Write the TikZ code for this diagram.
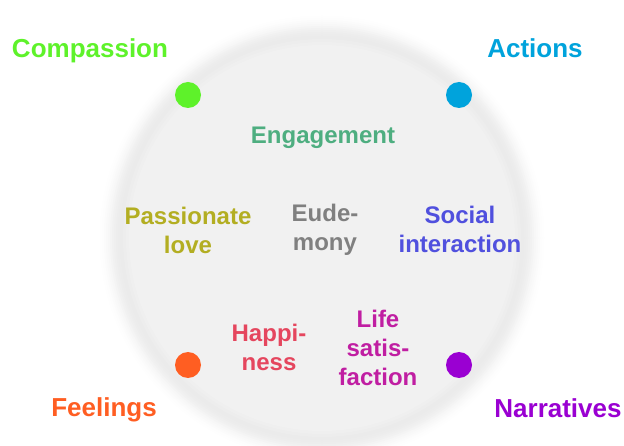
\documentclass[tikz,border=0pt]{standalone}
\usepackage{fontspec}
\setmainfont{Liberation Sans}
\definecolor{cgreen}{HTML}{5EF22A}
\definecolor{cblue}{HTML}{00A3DC}
\definecolor{corange}{HTML}{FF5E22}
\definecolor{cpurple}{HTML}{9A00D2}
\definecolor{cengage}{HTML}{4EAE80}
\definecolor{colive}{HTML}{B3AE22}
\definecolor{cgray}{HTML}{808080}
\definecolor{csocial}{HTML}{5050DE}
\definecolor{chappy}{HTML}{E5465E}
\definecolor{clife}{HTML}{C01EA2}
\definecolor{disc}{HTML}{F1F1F1}
\definecolor{rim}{HTML}{EBEBEB}
\begin{document}
\begin{tikzpicture}[x=1pt,y=-1pt,
  outer/.style={font=\bfseries\fontsize{26}{29}\selectfont, inner sep=0pt},
  inner/.style={font=\bfseries\fontsize{24}{29}\selectfont, align=center, inner sep=0pt},
  dot/.style={circle, minimum size=26pt, inner sep=0pt}]
\useasboundingbox (0,0) rectangle (624,446);
\clip (0,0) rectangle (624,446);
\fill[white] (0,0) rectangle (624,446);
% soft rim of the disc
\foreach \r/\m in {222/5,220/12,218/20,216/30,214/42,212/55,210/68,208/80,206/90,204/97,202/100}
  \fill[rim!\m!white] (322,238) circle (\r);
\foreach \r/\m in {199/40,196/70,193/100}
  \fill[disc!\m!rim] (322,238) circle (\r);
% corner dots
\node[dot, fill=cgreen] (dc) at (188,95) {};
\node[dot, fill=cblue] (da) at (459,95) {};
\node[dot, fill=corange] (df) at (188,365) {};
\node[dot, fill=cpurple] (dn) at (459,365) {};
% corner labels
\node[outer, text=cgreen] (lc) at (90,51) {Compassion};
\node[outer, text=cblue] (la) at (535,48) {Actions};
\node[outer, text=corange] (lf) at (104,410) {Feelings};
\node[outer, text=cpurple] (ln) at (558,408) {Narratives};
% inner labels
\node[inner, text=cengage] (eng) at (323,138) {Engagement};
\node[inner, text=colive] (pas) at (188,230) {Passionate\\love};
\node[inner, text=cgray] (eud) at (325,230) {Eude-\\mony};
\node[inner, text=csocial] (soc) at (460,229) {Social\\interaction};
\node[inner, text=chappy] (hap) at (269,347) {Happi-\\ness};
\node[inner, text=clife] (life) at (378,348) {Life\\satis-\\faction};
\end{tikzpicture}
\end{document}
